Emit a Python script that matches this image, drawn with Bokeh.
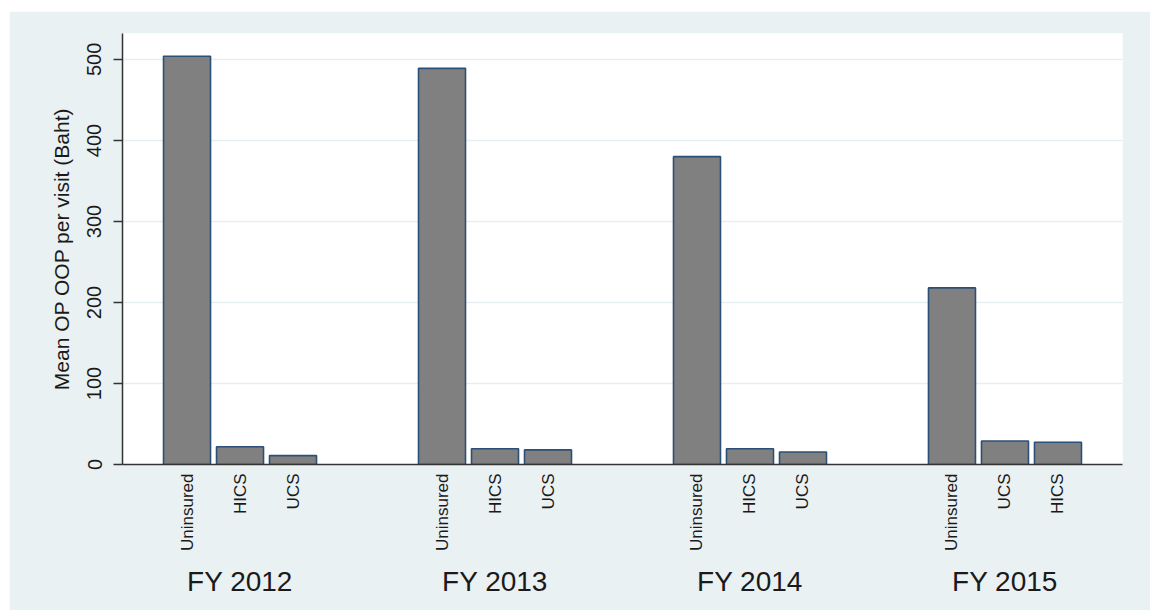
import math
from bokeh.plotting import figure
from bokeh.models import FactorRange, Range1d, FixedTicker, ColumnDataSource, CategoricalAxis
from bokeh.embed import file_html
from bokeh.resources import INLINE

years = ["FY 2012", "FY 2013", "FY 2014", "FY 2015"]
groups_2012 = ["Uninsured", "HICS", "UCS"]
groups_2013 = ["Uninsured", "HICS", "UCS"]
groups_2014 = ["Uninsured", "HICS", "UCS"]
groups_2015 = ["Uninsured", "UCS", "HICS"]
values_2012 = [504, 22, 11]
values_2013 = [489, 19.5, 18]
values_2014 = [380, 19.5, 15.5]
values_2015 = [218, 29, 27.5]
y_ticks = [0, 100, 200, 300, 400, 500]

cats = [groups_2012, groups_2013, groups_2014, groups_2015]
vals = [values_2012, values_2013, values_2014, values_2015]
x = []
top = []
for yr, cs, vs in zip(years, cats, vals):
    for c, v in zip(cs, vs):
        x.append((yr, c))
        top.append(v)

src = ColumnDataSource(dict(x=x, top=top))

BG = "#eaf1f3"
FONT = "Liberation Sans"

GP = 1.811          # gap between year groups, in bar slots
EDGE = 0.7174       # padding at each end, in bar slots
NB = 3              # bars per group

xr = FactorRange(*x, factor_padding=0.0, group_padding=GP,
                 range_padding=EDGE, range_padding_units="absolute")
# range for the year labels, aligned with the group centres of xr
yr_range = FactorRange(*years, factor_padding=NB - 1 + GP,
                       range_padding=EDGE + (NB - 1) / 2,
                       range_padding_units="absolute")

p = figure(x_range=xr, y_range=Range1d(0, 532),
           frame_width=1000, frame_height=431,
           min_border_left=113, min_border_top=22, min_border_right=28,
           min_border_bottom=146,
           output_backend="svg", toolbar_location=None,
           background_fill_color="white", border_fill_color=BG,
           outline_line_color=None, margin=(11, 0, 0, 9))
p.extra_x_ranges = {"years": yr_range}

p.vbar(x="x", top="top", width=47/53, source=src,
       fill_color="#808080", line_color="#2a5077", line_width=1.6)

p.xgrid.grid_line_color = None
p.ygrid.grid_line_color = "#e6eef1"
p.ygrid.grid_line_width = 1.5
p.ygrid.ticker = FixedTicker(ticks=y_ticks)

ya = p.yaxis[0]
ya.ticker = FixedTicker(ticks=y_ticks)
ya.axis_label = "Mean OP OOP per visit (Baht)"
ya.axis_label_text_font = FONT
ya.axis_label_text_font_size = "21px"
ya.axis_label_text_font_style = "normal"
ya.axis_label_text_color = "#1a1a1a"
ya.axis_label_standoff = 12
ya.major_label_orientation = "vertical"
ya.major_label_text_font = FONT
ya.major_label_text_font_size = "20px"
ya.major_label_text_color = "#1a1a1a"
ya.major_label_standoff = 12
ya.major_tick_out = 9
ya.major_tick_in = 0
ya.minor_tick_line_color = None
ya.axis_line_color = "#333333"
ya.axis_line_width = 1.5
ya.major_tick_line_color = "#333333"
ya.major_tick_line_width = 1.5

xa = p.xaxis[0]
xa.major_label_orientation = math.pi / 2
xa.major_label_text_font = FONT
xa.major_label_text_font_size = "17px"
xa.major_label_text_color = "#1a1a1a"
xa.major_label_standoff = 3
xa.group_text_font_size = "0px"
xa.group_text_color = None
xa.major_tick_line_color = None
xa.minor_tick_line_color = None
xa.axis_line_color = "#333333"
xa.axis_line_width = 1.5
xa.separator_line_color = None

ga = CategoricalAxis(x_range_name="years")
ga.major_label_text_font = FONT
ga.major_label_text_font_size = "28px"
ga.major_label_text_color = "#1a1a1a"
ga.major_label_standoff = 6
ga.major_tick_line_color = None
ga.minor_tick_line_color = None
ga.axis_line_color = None
p.add_layout(ga, "below")

open("out.html", "w").write(file_html(p, INLINE))
